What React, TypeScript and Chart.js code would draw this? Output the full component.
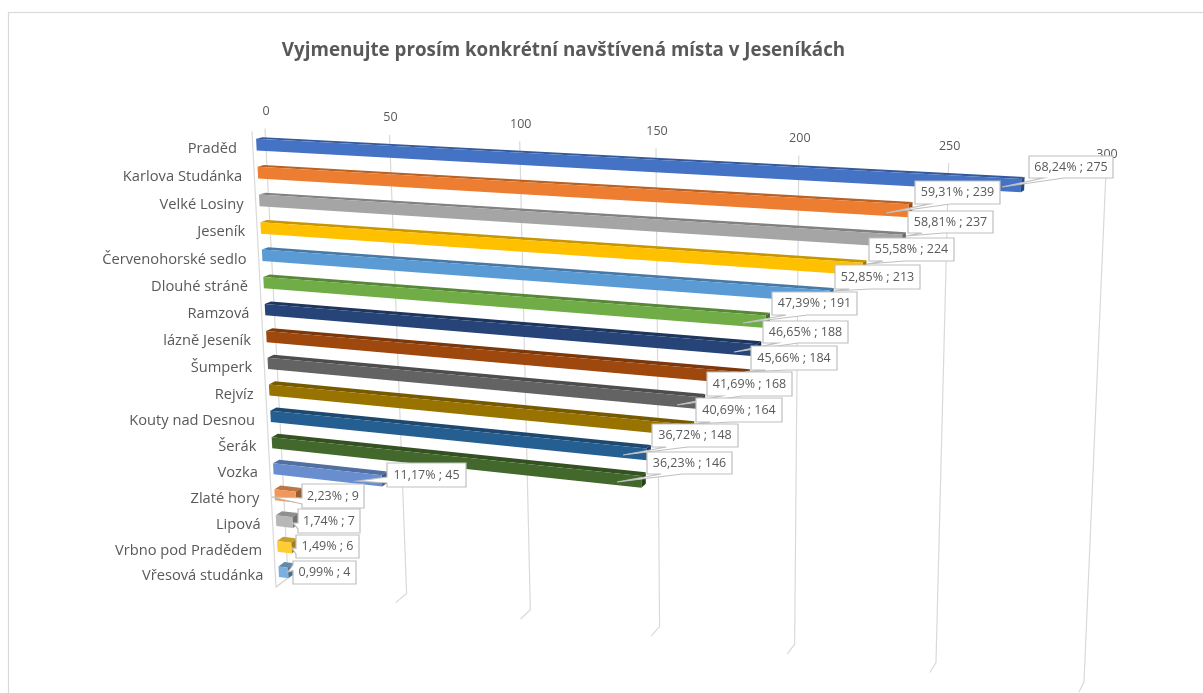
import React, { useEffect, useRef } from "react";
import { Chart, registerables } from "chart.js";

Chart.register(...registerables);

const TITLE = "Vyjmenujte prosím konkrétní navštívená místa v Jeseníkách";
const categories = ["Praděd ", "Karlova Studánka", "Velké Losiny", "Jeseník", "Červenohorské sedlo", "Dlouhé stráně", "Ramzová", "lázně Jeseník", "Šumperk", "Rejvíz", "Kouty nad Desnou", "Šerák", "Vozka", "Zlaté hory", "Lipová", "Vrbno pod Pradědem", "Vřesová studánka"];
const counts = [275, 239, 237, 224, 213, 191, 188, 184, 168, 164, 148, 146, 45, 9, 7, 6, 4];
const percents = ["68,24%", "59,31%", "58,81%", "55,58%", "52,85%", "47,39%", "46,65%", "45,66%", "41,69%", "40,69%", "36,72%", "36,23%", "11,17%", "2,23%", "1,74%", "1,49%", "0,99%"];
const barColors = ["#4472C4", "#ED7D31", "#A5A5A5", "#FFC000", "#5B9BD5", "#70AD47", "#264478", "#9E480E", "#636363", "#997300", "#255E91", "#43682B", "#698ED0", "#F1975A", "#B7B7B7", "#FFCD33", "#7CAFDD"];

// Callout layout in page pixels: box left, top, right, bottom, pointer x, pointer y.
const calloutLayout = [
  [1029, 156, 1113, 178, 1002, 187], [915, 181, 1000, 204, 886, 213], [908, 211, 993, 233, 906, 236],
  [869, 238, 954, 261, 867, 264], [835, 265, 920, 289, 833, 291], [772, 292, 857, 315, 743, 323],
  [763, 321, 848, 343, 734, 352], [751, 346, 837, 370, 745, 372], [707, 372, 792, 396, 677, 405],
  [696, 398, 782, 422, 693, 424], [652, 424, 738, 447, 623, 455], [647, 452, 732, 474, 617, 482],
  [387, 463, 466, 487, 358, 481], [302, 484, 364, 508, 272, 497], [298, 509, 360, 533, 293, 523],
  [296, 535, 359, 558, 292, 548], [293, 561, 356, 584, 288, 572],
];

const FONT = '"Open Sans", sans-serif';
const GRID = "#D9D9D9";
const TEXT = "#595959";

// Back plane corners of the tilted floor, clockwise from value 0 / first category.
const corners = [[265, 128.5], [1106, 171], [1084, 682], [288, 578]];
// Shift of a point when moved from the back plane to the front plane.
const depthShift = [[-13, 3], [-6, 4], [-5, 10], [-12, 9]];

function solveHomography(q: number[][]) {
  const [[x0, y0], [x1, y1], [x2, y2], [x3, y3]] = q;
  const dx1 = x1 - x2, dx2 = x3 - x2, sx = x0 - x1 + x2 - x3;
  const dy1 = y1 - y2, dy2 = y3 - y2, sy = y0 - y1 + y2 - y3;
  const det = dx1 * dy2 - dx2 * dy1;
  const g = (sx * dy2 - dx2 * sy) / det;
  const h = (dx1 * sy - sx * dy1) / det;
  return { a: x1 - x0 + g * x1, b: x3 - x0 + h * x3, c: x0, d: y1 - y0 + g * y1, e: y3 - y0 + h * y3, f: y0, g, h };
}
const H = solveHomography(corners);

// u, w: 0..1 position inside chartArea; d: 0 back plane, 1 front plane.
function project(u: number, w: number, d: number): [number, number] {
  const den = H.g * u + H.h * w + 1;
  const x = (H.a * u + H.b * w + H.c) / den;
  const y = (H.d * u + H.e * w + H.f) / den;
  const mix = (k: number) =>
    (1 - u) * (1 - w) * depthShift[0][k] + u * (1 - w) * depthShift[1][k] + u * w * depthShift[2][k] + (1 - u) * w * depthShift[3][k];
  return [x + d * mix(0), y + d * mix(1)];
}

function shade(hex: string, f: number) {
  const n = parseInt(hex.slice(1), 16);
  return `rgb(${Math.round((n >> 16) * f)},${Math.round(((n >> 8) & 255) * f)},${Math.round((n & 255) * f)})`;
}

function poly(ctx: CanvasRenderingContext2D, pts: number[][], fill?: string, stroke?: string, lw = 1) {
  ctx.beginPath();
  pts.forEach((p, i) => (i ? ctx.lineTo(p[0], p[1]) : ctx.moveTo(p[0], p[1])));
  if (fill) {
    ctx.closePath();
    ctx.fillStyle = fill;
    ctx.fill();
  }
  if (stroke) {
    ctx.strokeStyle = stroke;
    ctx.lineWidth = lw;
    ctx.stroke();
  }
}

const BAR_FRONT = 0.72;
const BAR_BACK = 0.22;

const projectedPlugin = {
  id: "projected",
  beforeDatasetDraw(chart: any) {
    const ctx: CanvasRenderingContext2D = chart.ctx;
    const area = chart.chartArea;
    const nu = (px: number) => (px - area.left) / area.width;
    const nw = (py: number) => (py - area.top) / area.height;
    const xs = chart.scales.x;

    ctx.save();
    // frame runs off the right and bottom of the picture
    ctx.strokeStyle = GRID;
    ctx.lineWidth = 1.2;
    ctx.strokeRect(8.5, 12.5, 1300, 800);

    // gridlines with their front foot
    xs.ticks.forEach((t: any) => {
      const u = nu(xs.getPixelForValue(t.value));
      poly(ctx, [project(u, 0, 0), project(u, 1, 0), project(u, 1, 1)], undefined, GRID, 1.2);
    });
    poly(ctx, [project(0, 0, 1), project(0, 1, 1), project(0, 1, 0)], undefined, GRID, 1.2);

    // value ticks
    ctx.font = `12.5px ${FONT}`;
    ctx.fillStyle = TEXT;
    ctx.textAlign = "center";
    ctx.textBaseline = "middle";
    xs.ticks.forEach((t: any) => {
      const [x, y] = project(nu(xs.getPixelForValue(t.value)), 0, 0);
      ctx.fillText(String(t.value), x + 1, y - 17);
    });

    // bars
    const meta = chart.getDatasetMeta(0);
    meta.data.forEach((el: any, i: number) => {
      const p = el.getProps(["x", "y", "base", "height"], true);
      const uB = nu(p.base);
      const uE = nu(p.x);
      const w0 = nw(p.y - p.height / 2);
      const w1 = nw(p.y + p.height / 2);
      const col = barColors[i];
      // back-top strip
      poly(ctx, [project(uB, w0, BAR_BACK), project(uE, w0, BAR_BACK), project(uE, w0, BAR_FRONT), project(uB, w0, BAR_FRONT)], shade(col, 0.78));
      // end cap
      poly(ctx, [project(uE, w0, BAR_FRONT), project(uE, w0, BAR_BACK), project(uE, w1, BAR_BACK), project(uE, w1, BAR_FRONT)], shade(col, 0.62));
      // front face
      poly(ctx, [project(uB, w0, BAR_FRONT), project(uE, w0, BAR_FRONT), project(uE, w1, BAR_FRONT), project(uB, w1, BAR_FRONT)], col);
    });

    // category labels
    ctx.font = `14.7px ${FONT}`;
    ctx.fillStyle = TEXT;
    ctx.textAlign = "right";
    categories.forEach((c, i) => {
      const el = meta.data[i];
      const w = nw(el.y);
      const [x, y] = project(0, w, 1);
      ctx.fillText(c, x - 12, y + 2 + 1.5 * (1 - w));
    });
    ctx.restore();
    return false;
  },
  afterDatasetsDraw(chart: any) {
    const ctx: CanvasRenderingContext2D = chart.ctx;
    ctx.save();
    ctx.font = `12.5px ${FONT}`;
    ctx.textAlign = "center";
    ctx.textBaseline = "middle";
    calloutLayout.forEach(([l, t, r, b, tx, ty], i) => {
      const w = r - l, h = b - t;
      const cx = (l + r) / 2, cy = (t + b) / 2;
      const dx = (tx - cx) / w, dy = (ty - cy) / h;
      const pts: number[][] = [[l, t]];
      if (Math.abs(dx) > Math.abs(dy)) {
        const y0 = dy < 0 ? t + h / 6 : t + (7 * h) / 12;
        const y1 = dy < 0 ? t + (5 * h) / 12 : t + (5 * h) / 6;
        if (dx > 0) pts.push([r, t], [r, y0], [tx, ty], [r, y1], [r, b], [l, b]);
        else pts.push([r, t], [r, b], [l, b], [l, y1], [tx, ty], [l, y0]);
      } else {
        const x0 = dx < 0 ? l + w / 6 : l + (7 * w) / 12;
        const x1 = dx < 0 ? l + (5 * w) / 12 : l + (5 * w) / 6;
        if (dy > 0) pts.push([r, t], [r, b], [x1, b], [tx, ty], [x0, b], [l, b]);
        else pts.push([x0, t], [tx, ty], [x1, t], [r, t], [r, b], [l, b]);
      }
      poly(ctx, pts, "#FFFFFF");
      ctx.closePath();
      ctx.strokeStyle = "#BFBFBF";
      ctx.lineWidth = 1.2;
      ctx.stroke();
      ctx.fillStyle = TEXT;
      ctx.fillText(`${percents[i]} ; ${counts[i]}`, cx, cy);
    });
    ctx.restore();
  },
};

export default function App() {
  const ref = useRef<HTMLCanvasElement>(null);
  useEffect(() => {
    const chart = new Chart(ref.current!, {
      type: "bar",
      data: {
        labels: categories,
        datasets: [{ data: counts, backgroundColor: barColors, barPercentage: 0.42, categoryPercentage: 1 }],
      },
      options: {
        indexAxis: "y",
        animation: false,
        responsive: false,
        layout: { padding: { top: 39, right: 76, left: 0, bottom: 0 } },
        plugins: {
          legend: { display: false },
          tooltip: { enabled: false },
          title: {
            display: true,
            text: TITLE,
            color: TEXT,
            font: { family: FONT, size: 18.8, weight: "bold" },
            padding: 0,
          },
        },
        scales: {
          x: { display: false, min: 0, max: 300, ticks: { stepSize: 50 } },
          y: { display: false },
        },
      },
      plugins: [projectedPlugin],
    } as any);
    return () => chart.destroy();
  }, []);
  return (
    <div style={{ position: "fixed", left: 0, top: 0, width: 1203, height: 693, background: "#fff" }}>
      <canvas ref={ref} width={1203} height={693} style={{ display: "block" }} />
    </div>
  );
}
